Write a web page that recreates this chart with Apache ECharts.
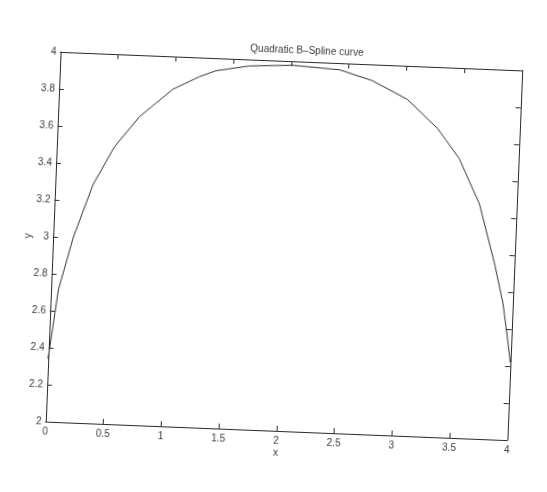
<!DOCTYPE html>
<html>
<head>
<meta charset="utf-8">
<script src="https://cdn.jsdelivr.net/npm/echarts@6/dist/echarts.min.js"></script>
<style>
html,body{margin:0;padding:0;background:#fff;width:547px;height:492px;overflow:hidden;}
#chart{width:547px;height:492px;transform-origin:283.75px 246px;transform:rotate(2.3deg);}
</style>
</head>
<body>
<div id="chart"></div>
<script>
var titleText = 'Quadratic B\u2013Spline curve';
var xName = 'x';
var yName = 'y';
var curveX = [0.00, 0.066, 0.176, 0.329, 0.502, 0.707, 0.985, 1.211, 1.353, 1.64, 2.01, 2.42, 2.71, 3.02, 3.29, 3.488, 3.678, 3.83, 3.917, 3.97, 4.00];
var curveY = [2.34, 2.715, 3.00, 3.29, 3.50, 3.667, 3.822, 3.896, 3.932, 3.965, 3.978, 3.964, 3.912, 3.818, 3.668, 3.51, 3.27, 2.95, 2.737, 2.54, 2.42];
var xTickLabels = ['0', '0.5', '1', '1.5', '2', '2.5', '3', '3.5', '4'];
var yTickLabels = ['2', '2.2', '2.4', '2.6', '2.8', '3', '3.2', '3.4', '3.6', '3.8', '4'];

var pts = curveX.map(function (x, i) { return [x, curveY[i]]; });
var txt = '#3a3a3a';
var font = 'Liberation Sans';
var axisLine = {show: true, onZero: false, lineStyle: {color: '#2a2a2a', width: 1}};
var tick = {show: true, inside: true, length: 5, lineStyle: {color: '#2a2a2a', width: 1}};

var chart = echarts.init(document.getElementById('chart'), null, {renderer: 'canvas'});
chart.setOption({
  animation: false,
  backgroundColor: '#ffffff',
  title: {
    text: titleText, left: 294, top: 40, textAlign: 'center',
    textStyle: {fontFamily: font, fontSize: 10, fontWeight: 'normal', color: txt}
  },
  grid: {left: 52.75, top: 61, width: 462, height: 370, containLabel: false},
  xAxis: [{
    type: 'value', min: 0, max: 4, interval: 0.5, position: 'bottom',
    name: xName, nameLocation: 'middle', nameGap: 17, nameMoveOverlap: false,
    nameTextStyle: {fontFamily: font, fontSize: 10, color: txt},
    axisLine: axisLine, axisTick: tick, splitLine: {show: false},
    axisLabel: {margin: 5, fontFamily: font, fontSize: 10, color: txt,
      formatter: function (v) { return xTickLabels[Math.round(v / 0.5)]; }}
  }, {
    type: 'value', min: 0, max: 4, interval: 0.5, position: 'top',
    axisLine: axisLine, axisTick: tick, splitLine: {show: false}, axisLabel: {show: false}
  }],
  yAxis: [{
    type: 'value', min: 2, max: 4, interval: 0.2, position: 'left',
    name: yName, nameLocation: 'middle', nameGap: 20, nameMoveOverlap: false,
    nameTextStyle: {fontFamily: font, fontSize: 10, color: txt},
    axisLine: axisLine, axisTick: tick, splitLine: {show: false},
    axisLabel: {margin: 4, fontFamily: font, fontSize: 10, color: txt,
      formatter: function (v) { return yTickLabels[Math.round((v - 2) / 0.2)]; }}
  }, {
    type: 'value', min: 2, max: 4, interval: 0.2, position: 'right',
    axisLine: axisLine, axisTick: tick, splitLine: {show: false}, axisLabel: {show: false}
  }],
  series: [{
    type: 'line', data: pts, symbol: 'none', smooth: false,
    lineStyle: {color: '#333333', width: 1}
  }]
});
</script>
</body>
</html>
